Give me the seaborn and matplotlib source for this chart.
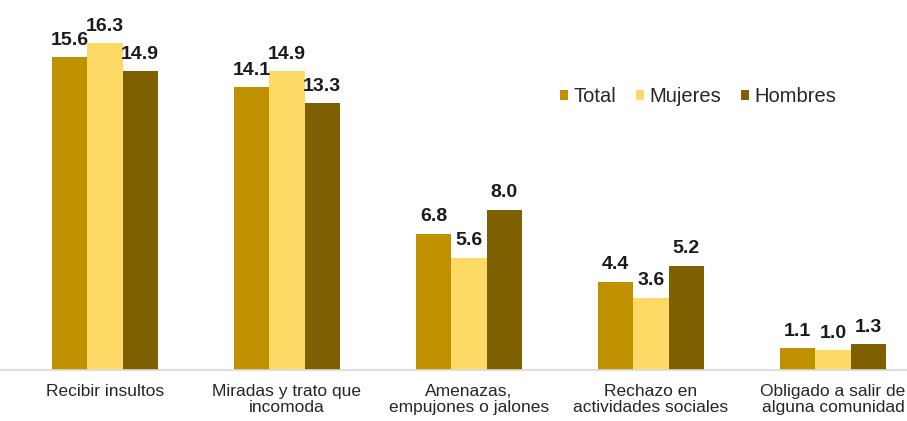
import matplotlib
matplotlib.use("Agg")
import matplotlib.pyplot as plt
import seaborn as sns
import pandas as pd

categories = ["Recibir insultos", "Miradas y trato que\nincomoda", "Amenazas,\nempujones o jalones",
              "Rechazo en\nactividades sociales", "Obligado a salir de\nalguna comunidad"]
series = ["Total", "Mujeres", "Hombres"]
total = [15.6, 14.1, 6.8, 4.4, 1.1]
mujeres = [16.3, 14.9, 5.6, 3.6, 1.0]
hombres = [14.9, 13.3, 8.0, 5.2, 1.3]
colors = ["#BF9000", "#FFD966", "#7F6000"]

rows = []
for s, vals in zip(series, [total, mujeres, hombres]):
    for c, v in zip(categories, vals):
        rows.append({"cat": c, "serie": s, "val": v})
df = pd.DataFrame(rows)

sns.set_style("white")
plt.rcParams["font.family"] = ["Liberation Sans", "DejaVu Sans"]

fig = plt.figure(figsize=(9.07, 4.21), dpi=100)
ax = fig.add_axes([0, 51 / 421, 1, 1 - 51 / 421])
sns.barplot(data=df, x="cat", y="val", hue="serie", palette=colors, width=0.58,
            order=categories, hue_order=series, ax=ax, saturation=1, linewidth=0)
ax.set_xlim((0 - 105) / 182, (907 - 105) / 182)
ax.set_ylim(0, 370 / 20.06)
for cont in ax.containers:
    ax.bar_label(cont, fmt="%.1f", padding=6, fontsize=14, fontweight="bold", color="#1a1a1a")
for sp in ["top", "right", "left"]:
    ax.spines[sp].set_visible(False)
ax.spines["bottom"].set_color("#d9d9d9")
ax.spines["bottom"].set_linewidth(1.2)
ax.set_yticks([])
ax.set_xlabel("")
ax.set_ylabel("")
ax.tick_params(axis="x", length=0, pad=10)
for lab in ax.get_xticklabels():
    lab.set_fontsize(12.5)
    lab.set_color("#262626")
    lab.set_linespacing(1.1)
leg = ax.legend(loc="center left", bbox_to_anchor=(552 / 907, (421 - 97 - 51) / 370), ncol=3,
                frameon=False, fontsize=14.5, handlelength=0.4, handleheight=0.4,
                handletextpad=0.25, columnspacing=1.0, borderaxespad=0)
for t in leg.get_texts():
    t.set_color("#262626")
fig.savefig("out.png", dpi=100)
